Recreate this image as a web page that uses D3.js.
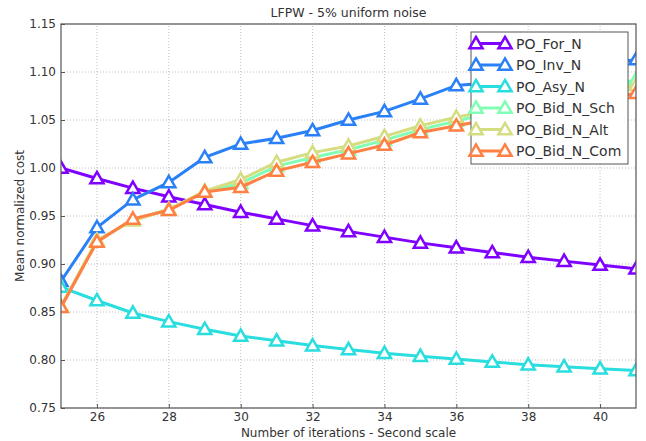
<!DOCTYPE html>
<html>
<head>
<meta charset="utf-8">
<script src="https://cdn.jsdelivr.net/npm/d3@7"></script>
<style>
  body { margin: 0; background: #fff; }
  text { font-family: "DejaVu Sans", sans-serif; fill: #333; }
</style>
</head>
<body>
<svg></svg>
<script>
// data
const iterations = [25, 26, 27, 28, 29, 30, 31, 32, 33, 34, 35, 36, 37, 38, 39, 40, 41];
const seriesNames = ["PO_For_N", "PO_Inv_N", "PO_Asy_N", "PO_Bid_N_Sch", "PO_Bid_N_Alt", "PO_Bid_N_Com"];
const seriesColors = ["#8000ff", "#2a80f6", "#2addde", "#80ffb4", "#d4dd80", "#ff8042"];
const forN = [1.000, 0.989, 0.979, 0.970, 0.962, 0.954, 0.947, 0.940, 0.934, 0.928, 0.922, 0.917, 0.912, 0.907, 0.903, 0.899, 0.895];
const invN = [0.882, 0.938, 0.967, 0.985, 1.011, 1.025, 1.031, 1.039, 1.050, 1.059, 1.072, 1.086, 1.089, 1.095, 1.101, 1.107, 1.113];
const asyN = [0.876, 0.862, 0.849, 0.840, 0.832, 0.825, 0.820, 0.815, 0.811, 0.807, 0.804, 0.801, 0.798, 0.795, 0.793, 0.791, 0.789];
const bidSch = [0.855, 0.924, 0.946, 0.957, 0.975, 0.984, 1.002, 1.011, 1.019, 1.029, 1.040, 1.049, 1.058, 1.066, 1.074, 1.083, 1.092];
const bidAlt = [0.856, 0.925, 0.945, 0.957, 0.976, 0.988, 1.006, 1.016, 1.023, 1.033, 1.044, 1.053, 1.060, 1.067, 1.073, 1.079, 1.086];
const bidCom = [0.855, 0.923, 0.947, 0.956, 0.975, 0.980, 0.997, 1.006, 1.015, 1.024, 1.037, 1.044, 1.051, 1.057, 1.064, 1.071, 1.078];
const seriesValues = [forN, invN, asyN, bidSch, bidAlt, bidCom];
const xTicks = [26, 28, 30, 32, 34, 36, 38, 40];
const yTicks = [0.75, 0.80, 0.85, 0.90, 0.95, 1.00, 1.05, 1.10, 1.15];

const width = 646;
const height = 441;
const margin = { left: 61, right: 10, top: 24, bottom: 33 };

const svg = d3.select('svg')
    .attr("width", width)
    .attr("height", height);

const x = d3.scaleLinear().domain([25, 41]).range([margin.left, width - margin.right]);
const y = d3.scaleLinear().domain([0.75, 1.15]).range([height - margin.bottom, margin.top]);

// clip so markers at the edges get cut like the original
svg.append("clipPath").attr("id", "plot")
    .append("rect")
    .attr("x", x(25)).attr("y", y(1.15))
    .attr("width", x(41) - x(25)).attr("height", y(0.75) - y(1.15));

// dotted grid
const grid = svg.append("g");
grid.selectAll("line.gx").data(xTicks).enter().append("line")
    .attr("x1", d => x(d)).attr("x2", d => x(d))
    .attr("y1", y(0.75)).attr("y2", y(1.15))
    .attr("stroke", "#b0b0b0").attr("stroke-width", 0.8).attr("stroke-dasharray", "1,2");
grid.selectAll("line.gy").data(yTicks).enter().append("line")
    .attr("x1", x(25)).attr("x2", x(41))
    .attr("y1", d => y(d)).attr("y2", d => y(d))
    .attr("stroke", "#b0b0b0").attr("stroke-width", 0.8).attr("stroke-dasharray", "1,2");

// axes
const xAxis = d3.axisBottom(x).tickValues(xTicks).tickFormat(d3.format("d")).tickSizeInner(-4).tickSizeOuter(0).tickPadding(4);
const yAxis = d3.axisLeft(y).tickValues(yTicks).tickFormat(d3.format(".2f")).tickSizeInner(-4).tickSizeOuter(0).tickPadding(5);

const gx = svg.append("g").attr("transform", `translate(0,${y(0.75)})`).call(xAxis);
const gy = svg.append("g").attr("transform", `translate(${x(25)},0)`).call(yAxis);
[gx, gy].forEach(g => {
    g.select(".domain").remove();
    g.selectAll("line").attr("stroke", "#555");
    g.selectAll("text").style("font-size", "12px").attr("fill", "#333");
});

// lines and markers
const line = d3.line().x((d, i) => x(iterations[i])).y(d => y(d));
const tri = d3.symbol().type(d3.symbolTriangle).size(75);
const plot = svg.append("g").attr("clip-path", "url(#plot)");

seriesValues.forEach((vals, s) => {
    plot.append("path")
        .datum(vals)
        .attr("d", line)
        .attr("fill", "none")
        .attr("stroke", seriesColors[s])
        .attr("stroke-width", 3);
    plot.selectAll(null).data(vals).enter().append("path")
        .attr("d", tri)
        .attr("transform", (d, i) => `translate(${x(iterations[i])},${y(d) + 1})`)
        .attr("fill", "#fff")
        .attr("stroke", seriesColors[s])
        .attr("stroke-width", 2.5);
});

// frame
svg.append("rect")
    .attr("x", x(25)).attr("y", y(1.15))
    .attr("width", x(41) - x(25)).attr("height", y(0.75) - y(1.15))
    .attr("fill", "none").attr("stroke", "#555").attr("stroke-width", 1.2);

// title and labels
svg.append("text").attr("x", (x(25) + x(41)) / 2).attr("y", 17)
    .attr("text-anchor", "middle").style("font-size", "12.5px")
    .text("LFPW - 5% uniform noise");
svg.append("text").attr("x", (x(25) + x(41)) / 2).attr("y", 437)
    .attr("text-anchor", "middle").style("font-size", "12px")
    .text("Number of iterations - Second scale");
svg.append("text")
    .attr("transform", `translate(24,${(y(0.75) + y(1.15)) / 2}) rotate(-90)`)
    .attr("text-anchor", "middle").style("font-size", "12px")
    .text("Mean normalized cost");

// legend
const legend = svg.append("g").attr("transform", "translate(471,32)");
legend.append("rect")
    .attr("width", 157).attr("height", 132)
    .attr("fill", "#fff").attr("stroke", "#555").attr("stroke-width", 1);
seriesNames.forEach((name, s) => {
    const ly = 11.5 + s * 21.5;
    legend.append("line")
        .attr("x1", 5).attr("x2", 34).attr("y1", ly).attr("y2", ly)
        .attr("stroke", seriesColors[s]).attr("stroke-width", 3);
    [5, 34].forEach(lx => {
        legend.append("path")
            .attr("d", tri)
            .attr("transform", `translate(${lx},${ly + 1})`)
            .attr("fill", "#fff")
            .attr("stroke", seriesColors[s])
            .attr("stroke-width", 2.5);
    });
    legend.append("text")
        .attr("x", 45).attr("y", ly + 5)
        .style("font-size", "14px")
        .text(name);
});
</script>
</body>
</html>
